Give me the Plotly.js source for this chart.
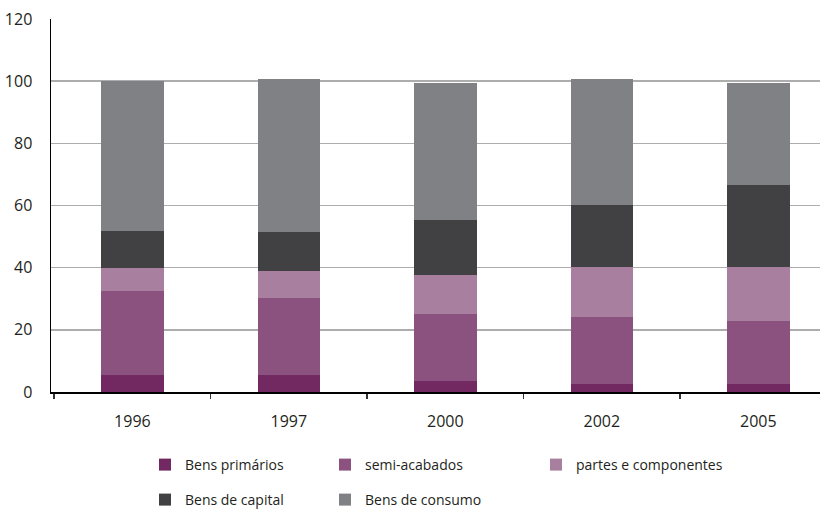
<!DOCTYPE html>
<html>
<head>
<meta charset="utf-8">
<script src="https://cdn.plot.ly/plotly-3.0.1.min.js"></script>
<style>html,body{margin:0;padding:0;background:#fff;}#chart{width:820px;height:513px;}</style>
</head>
<body>
<div id="chart"></div>
<script>
const years = ["1996", "1997", "2000", "2002", "2005"];
const bensPrimarios = [5.4, 5.4, 3.4, 2.5, 2.5];
const semiAcabados = [27.1, 24.8, 21.6, 21.6, 20.3];
const partesComponentes = [7.5, 8.7, 12.6, 16.1, 17.4];
const bensCapital = [11.9, 12.5, 17.7, 19.9, 26.4];
const bensConsumo = [48.1, 49.3, 44.1, 40.6, 32.8];

const seriesNames = ["Bens primários", "semi-acabados", "partes e componentes", "Bens de capital", "Bens de consumo"];
const seriesValues = [bensPrimarios, semiAcabados, partesComponentes, bensCapital, bensConsumo];
const colors = ["#722861", "#8b517f", "#a87f9f", "#414042", "#808184"];
const legendIds = ["legend", "legend2", "legend3", "legend4", "legend5"];

const traces = seriesNames.map((name, i) => ({
  type: "bar",
  name: name,
  x: years,
  y: seriesValues[i],
  marker: {color: colors[i], line: {width: 0}},
  legend: legendIds[i],
  hoverinfo: "skip"
}));

const fnt = {family: "Open Sans, sans-serif", size: 14, color: "#231f20"};
function leg(xpx, ypx) {
  return {
    orientation: "h", xref: "container", yref: "container",
    x: xpx / 820, y: 1 - ypx / 513, xanchor: "left", yanchor: "middle",
    font: fnt, bgcolor: "rgba(0,0,0,0)", borderwidth: 0, itemclick: false
  };
}

const layout = {
  width: 820, height: 513,
  margin: {l: 51, r: 0, t: 19, b: 121},
  paper_bgcolor: "#ffffff", plot_bgcolor: "#ffffff",
  barmode: "stack",
  bargap: 0.6,
  font: {family: "Open Sans, sans-serif", size: 16, color: "#231f20"},
  xaxis: {
    type: "category",
    range: [-0.52, 4.394],
    showline: true, linecolor: "#000000", linewidth: 1.5,
    ticks: "outside", tickson: "boundaries", ticklen: 5, tickcolor: "#333333", tickwidth: 1.5,
    ticklabelstandoff: 14,
    showgrid: false, zeroline: false,
    tickfont: {family: "Open Sans, sans-serif", size: 16, color: "#231f20"}
  },
  yaxis: {
    range: [0, 120],
    tickvals: [0, 20, 40, 60, 80, 100, 120],
    showline: true, linecolor: "#000000", linewidth: 1.5,
    showgrid: true, gridcolor: "#adadad", gridwidth: 1.6,
    zeroline: false,
    ticks: "", ticklabelstandoff: 14,
    tickfont: {family: "Open Sans, sans-serif", size: 16, color: "#231f20"}
  },
  legend: leg(145, 465),
  legend2: leg(325, 465),
  legend3: leg(536, 465),
  legend4: leg(145, 500),
  legend5: leg(325, 500),
  showlegend: true
};

Plotly.newPlot("chart", traces, layout, {displayModeBar: false, staticPlot: true});
</script>
</body>
</html>
